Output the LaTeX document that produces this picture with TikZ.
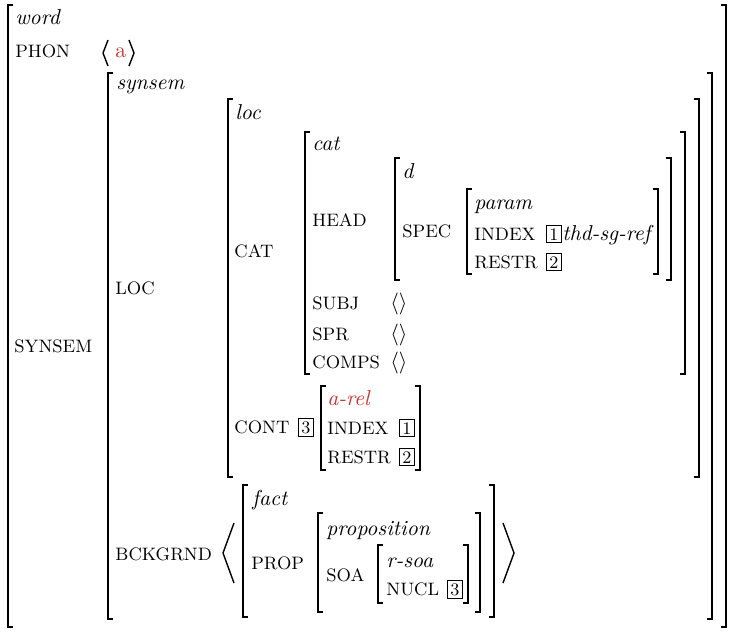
\documentclass[tikz,border=0pt]{standalone}
\usetikzlibrary{positioning}
\definecolor{avmred}{RGB}{212,48,48}

\begin{document}
\begin{tikzpicture}[
  x=0.5pt, y=-0.5pt,
  every node/.style={font=\fontsize{10.8}{13}\selectfont},
  attr/.style={anchor=base west, inner sep=0pt, font=\fontsize{9}{11}\selectfont},
  typ/.style ={anchor=base west, inner sep=0pt, font=\fontsize{10.8}{13}\selectfont\itshape},
  tag/.style ={anchor=base west, draw, line width=0.45pt, inner sep=1.4pt, font=\fontsize{8.8}{10}\selectfont},
  brk/.style ={line width=0.7pt},
]
  \useasboundingbox (0,0) rectangle (742,638);
  % square brackets: left x / right x / top / bottom
  \foreach \l/\r/\t/\b in {8/726/5/627, 108/712/73/619, 228/699/99/477, 305/685/132/374,
      395/671/158/280, 467/658/189/274, 321/420/386/470, 243/494/485/617,
      318/480/513/612, 378/468/545/603}{
    \draw[brk] (\l+5,\t) -- (\l,\t) -- (\l,\b) -- (\l+5,\b);
    \draw[brk] (\r-5,\t) -- (\r,\t) -- (\r,\b) -- (\r-5,\b);
  }
  % angle brackets
  \draw[brk] (108,40) -- (103,53) -- (108,66);
  \draw[brk] (129,40) -- (134,53) -- (129,66);
  \draw[brk] (234,523) -- (223,553) -- (234,583);
  \draw[brk] (503,523) -- (514,553) -- (503,583);

  % word
  \node[typ]  (word)   at (15,24)  {word};
  \node[attr] (phon)   at (15,57)  {PHON};
  \node[anchor=base west, inner sep=0pt, text=avmred] (phonval) at (115,57) {a};
  \node[attr] (synsemA) at (14,352) {SYNSEM};
  % synsem
  \node[typ]  (synsem) at (116,89)  {synsem};
  \node[attr] (locA)   at (115,294) {LOC};
  \node[attr] (bg)     at (115,560) {BCKGRND};
  % loc
  \node[typ]  (loc)    at (235,119) {loc};
  \node[attr] (catA)   at (234,257) {CAT};
  \node[attr] (cont)   at (234,433) {CONT};
  \node[tag]  (t3a)    at (298,433) {3};
  % cat
  \node[typ]  (cat)    at (312,150) {cat};
  \node[attr] (head)   at (312,226) {HEAD};
  \node[attr] (subj)   at (312,309) {SUBJ};
  \node[attr] (spr)    at (312,340) {SPR};
  \node[attr] (comps)  at (312,368) {COMPS};
  \foreach \n/\y in {subj/309, spr/340, comps/368}
    \node[anchor=base west, inner sep=0pt] (\n v) at (390,\y) {$\langle\rangle$};
  % d
  \node[typ]  (d)      at (402,178) {d};
  \node[attr] (spec)   at (402,237) {SPEC};
  \node[typ]  (param)  at (474,209) {param};
  \node[attr] (idx)    at (474,240) {INDEX};
  \node[tag]  (t1a)    at (546,240) {1};
  \node[typ]  (ref)    at (562,240) {thd-sg-ref};
  \node[attr] (restr)  at (474,268) {RESTR};
  \node[tag]  (t2a)    at (546,268) {2};
  % a-rel
  \node[typ, text=avmred] (arel) at (327,405) {a-rel};
  \node[attr] (idx2)   at (327,434) {INDEX};
  \node[tag]  (t1b)    at (399,434) {1};
  \node[attr] (restr2) at (327,463) {RESTR};
  \node[tag]  (t2b)    at (399,463) {2};
  % background
  \node[typ]  (fact)   at (252,505) {fact};
  \node[attr] (prop)   at (251,569) {PROP};
  \node[typ]  (propn)  at (326,535) {proposition};
  \node[attr] (soa)    at (326,581) {SOA};
  \node[typ]  (rsoa)   at (386,567) {r-soa};
  \node[attr] (nucl)   at (386,595) {NUCL};
  \node[tag]  (t3b)    at (447,595) {3};
\end{tikzpicture}
\end{document}
